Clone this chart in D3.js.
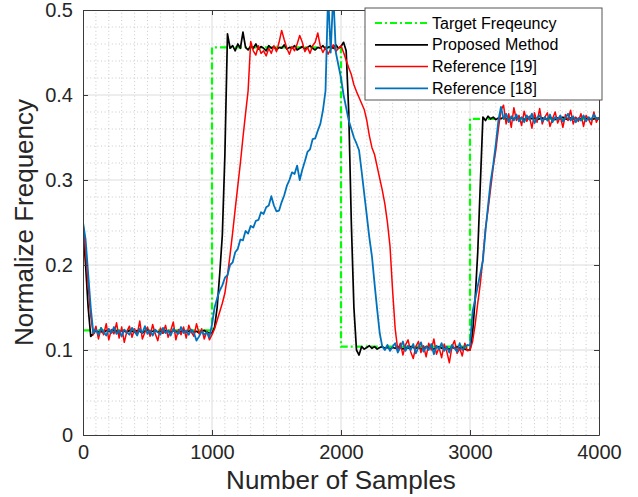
<!DOCTYPE html>
<html>
<head>
<meta charset="utf-8">
<script src="https://cdn.jsdelivr.net/npm/d3@7"></script>
<style>
  html, body { margin: 0; padding: 0; background: #fff; }
  svg { display: block; font-family: "Liberation Sans", Arial, sans-serif; }
</style>
</head>
<body>
<div class="chart"></div>
<script>
// Chart size
const width = 638;
const height = 497;
const margin = { top: 10, right: 39, bottom: 62, left: 83 };

// Data
// samples every 20 from 0 to 4000
const samples = d3.range(0, 4001, 20);

const targetX = [0, 1000, 1000, 2000, 2000, 3000, 3000, 4000];
const targetY = [0.123, 0.123, 0.456, 0.456, 0.104, 0.104, 0.372, 0.372];

const proposed = [
  0.245, 0.2, 0.15, 0.116, 0.119, 0.123, 0.121, 0.122, 0.12, 0.123,
  0.122, 0.121, 0.124, 0.122, 0.12, 0.123, 0.122, 0.121, 0.123, 0.122,
  0.121, 0.123, 0.122, 0.12, 0.122, 0.124, 0.121, 0.122, 0.123, 0.121,
  0.122, 0.12, 0.123, 0.122, 0.121, 0.123, 0.122, 0.12, 0.122, 0.123,
  0.121, 0.122, 0.123, 0.121, 0.122, 0.12, 0.122, 0.123, 0.121, 0.12,
  0.12, 0.127, 0.15, 0.19, 0.235, 0.33, 0.472, 0.455, 0.458, 0.452,
  0.46, 0.455, 0.474, 0.456, 0.453, 0.458, 0.455, 0.46, 0.454, 0.457,
  0.455, 0.452, 0.458, 0.455, 0.457, 0.453, 0.456, 0.455, 0.459, 0.454,
  0.456, 0.455, 0.458, 0.453, 0.455, 0.457, 0.454, 0.456, 0.458, 0.455,
  0.453, 0.456, 0.455, 0.458, 0.454, 0.456, 0.457, 0.455, 0.459, 0.455,
  0.457, 0.462, 0.452, 0.38, 0.25, 0.15, 0.1, 0.094, 0.104, 0.101,
  0.103, 0.105, 0.102, 0.104, 0.101, 0.103, 0.104, 0.102, 0.103, 0.101,
  0.103, 0.102, 0.104, 0.103, 0.101, 0.103, 0.102, 0.104, 0.103, 0.102,
  0.103, 0.101, 0.102, 0.104, 0.103, 0.102, 0.101, 0.103, 0.104, 0.102,
  0.103, 0.102, 0.101, 0.103, 0.102, 0.104, 0.102, 0.103, 0.101, 0.1,
  0.1, 0.12, 0.16, 0.215, 0.295, 0.374, 0.37, 0.375, 0.372, 0.374,
  0.371, 0.373, 0.372, 0.374, 0.372, 0.371, 0.373, 0.372, 0.374, 0.372,
  0.373, 0.371, 0.372, 0.374, 0.372, 0.373, 0.371, 0.372, 0.373, 0.372,
  0.372, 0.374, 0.372, 0.371, 0.373, 0.372, 0.374, 0.372, 0.371, 0.373,
  0.372, 0.373, 0.371, 0.372, 0.374, 0.372, 0.373, 0.371, 0.372, 0.373,
  0.372
];

const ref19 = [
  0.25, 0.215, 0.175, 0.14, 0.118, 0.128, 0.113, 0.126, 0.118, 0.131,
  0.112, 0.124, 0.119, 0.132, 0.114, 0.127, 0.109, 0.122, 0.128, 0.115,
  0.125, 0.118, 0.134, 0.113, 0.121, 0.127, 0.116, 0.13, 0.119, 0.111,
  0.126, 0.12, 0.129, 0.115, 0.123, 0.133, 0.112, 0.124, 0.118, 0.127,
  0.114, 0.129, 0.121, 0.116, 0.131, 0.119, 0.125, 0.113, 0.122, 0.112,
  0.118, 0.125, 0.135, 0.145, 0.155, 0.167, 0.188, 0.212, 0.238, 0.266,
  0.293, 0.32, 0.35, 0.378, 0.405, 0.463, 0.452, 0.447, 0.458, 0.449,
  0.452, 0.446, 0.455, 0.449, 0.458, 0.451, 0.462, 0.476, 0.465, 0.455,
  0.448, 0.457, 0.452, 0.46, 0.47, 0.462, 0.451, 0.456, 0.449, 0.458,
  0.462, 0.473, 0.457, 0.45, 0.456, 0.448, 0.454, 0.459, 0.451, 0.455,
  0.458, 0.45, 0.441, 0.432, 0.424, 0.412, 0.404, 0.397, 0.39, 0.383,
  0.37, 0.352, 0.338, 0.33, 0.316, 0.302, 0.288, 0.272, 0.25, 0.222,
  0.17, 0.125, 0.1, 0.108, 0.094, 0.106, 0.112, 0.098, 0.09, 0.104,
  0.11, 0.097, 0.105, 0.092, 0.108, 0.1, 0.113, 0.095, 0.103, 0.091,
  0.107, 0.098, 0.085, 0.104, 0.111, 0.096, 0.102, 0.093, 0.108, 0.099,
  0.1, 0.11, 0.13, 0.155, 0.178, 0.208, 0.243, 0.265, 0.29, 0.315,
  0.335, 0.36, 0.382, 0.388, 0.366, 0.378, 0.362, 0.385, 0.37, 0.376,
  0.364, 0.381, 0.369, 0.375, 0.361, 0.379, 0.368, 0.384, 0.366, 0.374,
  0.379, 0.363, 0.372, 0.38, 0.367, 0.375, 0.362, 0.377, 0.37, 0.382,
  0.366, 0.374, 0.369, 0.378, 0.363, 0.376, 0.371, 0.365, 0.38, 0.368,
  0.374
];

const ref18 = [
  0.25, 0.23, 0.19, 0.15, 0.12, 0.124, 0.118, 0.126, 0.121, 0.117,
  0.125, 0.12, 0.127, 0.119, 0.123, 0.116, 0.124, 0.121, 0.118, 0.126,
  0.122, 0.117, 0.125, 0.12, 0.128, 0.119, 0.123, 0.117, 0.124, 0.121,
  0.118, 0.126, 0.12, 0.123, 0.117, 0.125, 0.121, 0.119, 0.127, 0.12,
  0.123, 0.118, 0.124, 0.12, 0.111, 0.116, 0.122, 0.118, 0.121, 0.115,
  0.13, 0.15, 0.161, 0.17, 0.176, 0.185, 0.188, 0.2, 0.203, 0.215,
  0.219, 0.23, 0.229, 0.24, 0.237, 0.246, 0.244, 0.252, 0.253, 0.262,
  0.26, 0.268, 0.27, 0.281, 0.27, 0.263, 0.264, 0.274, 0.282, 0.293,
  0.3, 0.309, 0.307, 0.317, 0.3, 0.312, 0.322, 0.333, 0.336, 0.348,
  0.349, 0.358, 0.366, 0.382, 0.405, 0.52, 0.45, 0.52, 0.45, 0.435,
  0.42, 0.4, 0.385, 0.37, 0.36, 0.35, 0.343, 0.335, 0.31, 0.284,
  0.258, 0.232, 0.21, 0.178, 0.148, 0.12, 0.104, 0.1, 0.106, 0.099,
  0.104, 0.108, 0.097, 0.103, 0.11, 0.099, 0.105, 0.1, 0.107, 0.096,
  0.103, 0.109, 0.098, 0.104, 0.1, 0.107, 0.095, 0.105, 0.101, 0.108,
  0.099, 0.104, 0.097, 0.106, 0.102, 0.098, 0.108, 0.1, 0.104, 0.106,
  0.105, 0.145, 0.16, 0.175, 0.19, 0.205, 0.24, 0.27, 0.298, 0.318,
  0.342, 0.37, 0.386, 0.372, 0.378, 0.368, 0.375, 0.37, 0.377, 0.369,
  0.374, 0.368, 0.376, 0.371, 0.378, 0.367, 0.373, 0.376, 0.369, 0.374,
  0.37, 0.377, 0.368, 0.374, 0.371, 0.376, 0.369, 0.373, 0.378, 0.37,
  0.375, 0.368, 0.373, 0.37, 0.376, 0.369, 0.374, 0.371, 0.377, 0.372,
  0.373
];

const xTicks = [0, 1000, 2000, 3000, 4000];
const xTickLabels = ['0', '1000', '2000', '3000', '4000'];
const yTicks = [0, 0.1, 0.2, 0.3, 0.4, 0.5];
const yTickLabels = ['0', '0.1', '0.2', '0.3', '0.4', '0.5'];

const seriesNames = ['Target Freqeuncy', 'Proposed Method', 'Reference [19]', 'Reference [18]'];
const seriesColors = ['#00ff00', '#000000', '#ff0000', '#0072bd'];
const seriesWidths = [2.2, 1.7, 1.5, 1.8];

// Scales
const x = d3.scaleLinear().domain([0, 4000]).range([margin.left, width - margin.right]);
const y = d3.scaleLinear().domain([0, 0.5]).range([height - margin.bottom, margin.top]);

const svg = d3.select('.chart')
  .append('svg')
  .attr('width', width)
  .attr('height', height);

svg.append('defs').append('clipPath')
  .attr('id', 'plotClip')
  .append('rect')
  .attr('x', x(0)).attr('y', y(0.5))
  .attr('width', x(4000) - x(0)).attr('height', y(0) - y(0.5));

// Minor grid (dotted)
const gMinor = svg.append('g')
  .attr('stroke', '#bdbdbd')
  .attr('stroke-width', 0.8)
  .attr('stroke-dasharray', '1,2.6');
gMinor.selectAll('line.vx')
  .data(d3.range(100, 4000, 100).filter(d => d % 1000 !== 0))
  .join('line')
  .attr('x1', d => x(d)).attr('x2', d => x(d))
  .attr('y1', y(0)).attr('y2', y(0.5));
gMinor.selectAll('line.hy')
  .data(d3.range(1, 25).map(i => i * 0.02).filter((d, i) => (i + 1) % 5 !== 0))
  .join('line')
  .attr('x1', x(0)).attr('x2', x(4000))
  .attr('y1', d => y(d)).attr('y2', d => y(d));

// Major grid
const gMajor = svg.append('g')
  .attr('stroke', '#dcdcdc')
  .attr('stroke-width', 1);
gMajor.selectAll('line.gx')
  .data(xTicks.slice(1, -1))
  .join('line')
  .attr('x1', d => x(d)).attr('x2', d => x(d))
  .attr('y1', y(0)).attr('y2', y(0.5));
gMajor.selectAll('line.gy')
  .data(yTicks.slice(1, -1))
  .join('line')
  .attr('x1', x(0)).attr('x2', x(4000))
  .attr('y1', d => y(d)).attr('y2', d => y(d));

// Lines
const plot = svg.append('g').attr('clip-path', 'url(#plotClip)');
const line = d3.line().x(d => x(d[0])).y(d => y(d[1]));

plot.append('path')
  .datum(targetX.map((v, i) => [v, targetY[i]]))
  .attr('fill', 'none')
  .attr('stroke', seriesColors[0])
  .attr('stroke-width', seriesWidths[0])
  .attr('stroke-dasharray', '7,3,2,3')
  .attr('d', line);

[proposed, ref19, ref18].forEach((vals, k) => {
  plot.append('path')
    .datum(samples.map((s, i) => [s, vals[i]]))
    .attr('fill', 'none')
    .attr('stroke', seriesColors[k + 1])
    .attr('stroke-width', seriesWidths[k + 1])
    .attr('stroke-linejoin', 'round')
    .attr('d', line);
});

// Axes (ticks inside, box on)
const axisColor = '#3a3a3a';
function styleAxis(g) {
  g.select('.domain').attr('stroke', axisColor).attr('stroke-width', 1);
  g.selectAll('.tick line').attr('stroke', axisColor);
  g.selectAll('.tick text')
    .attr('fill', '#262626')
    .style('font-size', '20px')
    .style('font-family', '"Liberation Sans", Arial, sans-serif');
}

svg.append('g')
  .attr('transform', `translate(0, ${y(0)})`)
  .call(d3.axisBottom(x).tickValues(xTicks).tickFormat((d, i) => xTickLabels[i])
    .tickSizeInner(-5).tickSizeOuter(0).tickPadding(10))
  .call(styleAxis);

svg.append('g')
  .attr('transform', `translate(0, ${y(0.5)})`)
  .call(d3.axisTop(x).tickValues(xTicks).tickFormat('').tickSizeInner(-5).tickSizeOuter(0))
  .call(styleAxis);

svg.append('g')
  .attr('transform', `translate(${x(0)}, 0)`)
  .call(d3.axisLeft(y).tickValues(yTicks).tickFormat((d, i) => yTickLabels[i])
    .tickSizeInner(-5).tickSizeOuter(0).tickPadding(10))
  .call(styleAxis);

svg.append('g')
  .attr('transform', `translate(${x(4000)}, 0)`)
  .call(d3.axisRight(y).tickValues(yTicks).tickFormat('').tickSizeInner(-5).tickSizeOuter(0))
  .call(styleAxis);

// Axis titles
svg.append('text')
  .attr('x', (x(0) + x(4000)) / 2)
  .attr('y', 489)
  .attr('text-anchor', 'middle')
  .attr('fill', '#262626')
  .style('font-size', '26px')
  .text('Number of Samples');

svg.append('text')
  .attr('transform', `translate(33, ${(y(0) + y(0.5)) / 2}) rotate(-90)`)
  .attr('text-anchor', 'middle')
  .attr('fill', '#262626')
  .style('font-size', '26px')
  .text('Normalize Frequency');

// Legend
const legend = svg.append('g').attr('transform', 'translate(365, 8)');
legend.append('rect')
  .attr('width', 237).attr('height', 92)
  .attr('fill', '#fff')
  .attr('stroke', '#555')
  .attr('stroke-width', 1);

const rows = legend.selectAll('g.row')
  .data(seriesNames)
  .join('g')
  .attr('transform', (d, i) => `translate(0, ${15 + i * 21.8})`);

rows.append('line')
  .attr('x1', 10).attr('x2', 63)
  .attr('stroke', (d, i) => seriesColors[i])
  .attr('stroke-width', (d, i) => seriesWidths[i])
  .attr('stroke-dasharray', (d, i) => i === 0 ? '7,3,2,3' : null);

rows.append('text')
  .attr('x', 67)
  .attr('dy', '0.35em')
  .attr('fill', '#000')
  .style('font-size', '16px')
  .text(d => d);
</script>
</body>
</html>
